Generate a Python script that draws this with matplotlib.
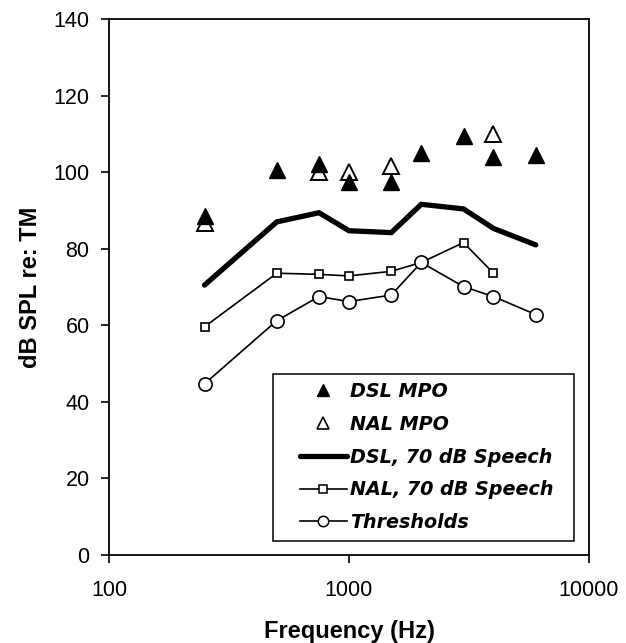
import matplotlib
matplotlib.use("Agg")
import matplotlib.pyplot as plt
from matplotlib.lines import Line2D
from matplotlib.patches import Rectangle
from matplotlib.ticker import FixedLocator, NullLocator, FixedFormatter

# ---- data ----
freqs = [250, 500, 750, 1000, 1500, 2000, 3000, 4000, 6000]
dsl_mpo = [88.5, 100.5, 102.0, 97.5, 97.5, 105.1, 109.4, 104.0, 104.5]
nal_mpo_freqs = [250, 750, 1000, 1500, 4000]
nal_mpo = [86.7, 100.1, 100.1, 101.7, 109.9]
dsl_speech = [70.5, 87.0, 89.4, 84.7, 84.2, 91.6, 90.4, 85.3, 81.0]
nal_speech_freqs = [250, 500, 750, 1000, 1500, 2000, 3000, 4000]
nal_speech = [59.6, 73.6, 73.3, 72.9, 74.1, 76.4, 81.6, 73.6]
thresholds = [44.7, 61.2, 67.5, 66.2, 67.9, 76.4, 70.1, 67.5, 62.8]

x_ticks = [100, 1000, 10000]
x_tick_labels = ["100", "1000", "10000"]
y_ticks = [0, 20, 40, 60, 80, 100, 120, 140]

legend_labels = ["DSL MPO", "NAL MPO", "DSL, 70 dB Speech",
                 "NAL, 70 dB Speech", "Thresholds"]

# ---- figure ----
W, H = 626, 643
fig = plt.figure(figsize=(W / 100, H / 100), dpi=100)
L, R, T, B = 109, 589, 19, 555
ax = fig.add_axes([L / W, 1 - B / H, (R - L) / W, (B - T) / H])

ax.set_xscale("log")
ax.set_xlim(100, 10000)
ax.set_ylim(0, 140)

ax.plot(freqs, dsl_speech, color="black", lw=3.8, solid_capstyle="round",
        solid_joinstyle="miter", zorder=2)
ax.plot(nal_speech_freqs, nal_speech, color="black", lw=1.2, marker="s",
        ms=6, mfc="white", mec="black", mew=1.2, zorder=3)
ax.plot(freqs, thresholds, color="black", lw=1.2, marker="o",
        ms=9.5, mfc="white", mec="black", mew=1.2, zorder=4)
ax.plot(nal_mpo_freqs, nal_mpo, ls="none", marker="^", ms=11,
        mfc="white", mec="black", mew=1.4, zorder=5)
ax.plot(freqs, dsl_mpo, ls="none", marker="^", ms=11.5,
        mfc="black", mec="black", zorder=6)

ax.xaxis.set_major_locator(FixedLocator(x_ticks))
ax.xaxis.set_major_formatter(FixedFormatter(x_tick_labels))
ax.xaxis.set_minor_locator(NullLocator())
ax.set_yticks(y_ticks)

for s in ax.spines.values():
    s.set_linewidth(1.3)
    s.set_color("black")

ax.tick_params(axis="both", direction="out", length=6, width=1.2, color="black")
ax.tick_params(axis="x", pad=12)
ax.tick_params(axis="y", pad=8)
for lab in ax.get_xticklabels() + ax.get_yticklabels():
    lab.set_fontfamily("Liberation Sans")
    lab.set_fontsize(15.5)

ax.set_xlabel("Frequency (Hz)", family="Liberation Sans", fontsize=17,
              fontweight="bold")
ax.set_ylabel("dB SPL re: TM", family="Liberation Sans", fontsize=17,
              fontweight="bold")
ax.xaxis.set_label_coords(0.5, (B - 620) / (B - T))
ax.yaxis.set_label_coords((42 - L) / (R - L), 0.5)

# ---- legend ----
handles = [
    Line2D([], [], ls="none", marker="^", ms=9, mfc="black", mec="black"),
    Line2D([], [], ls="none", marker="^", ms=8.5, mfc="white", mec="black", mew=1.2),
    Line2D([], [], color="black", lw=3.8, solid_capstyle="round"),
    Line2D([], [], color="black", lw=1.2, marker="s", ms=5.5, mfc="white",
           mec="black", mew=1.1),
    Line2D([], [], color="black", lw=1.2, marker="o", ms=7.5, mfc="white",
           mec="black", mew=1.1),
]
box_l, box_t, box_r, box_b = 273, 374, 574, 541
ax.add_patch(Rectangle(((box_l - L) / (R - L), (B - box_b) / (B - T)),
                       (box_r - box_l) / (R - L), (box_b - box_t) / (B - T),
                       transform=ax.transAxes, facecolor="white",
                       edgecolor="black", lw=1.1, zorder=7))
leg = ax.legend(handles, legend_labels, loc="upper left",
                bbox_to_anchor=((300 - L) / (R - L), (B - 382) / (B - T)),
                borderpad=0, borderaxespad=0, frameon=False,
                handlelength=2.45, handletextpad=0.15, labelspacing=0.72,
                prop=dict(family="DejaVu Sans", weight="bold",
                          style="oblique", size=13.8))
leg.set_zorder(8)

fig.savefig("out.png", dpi=100)
